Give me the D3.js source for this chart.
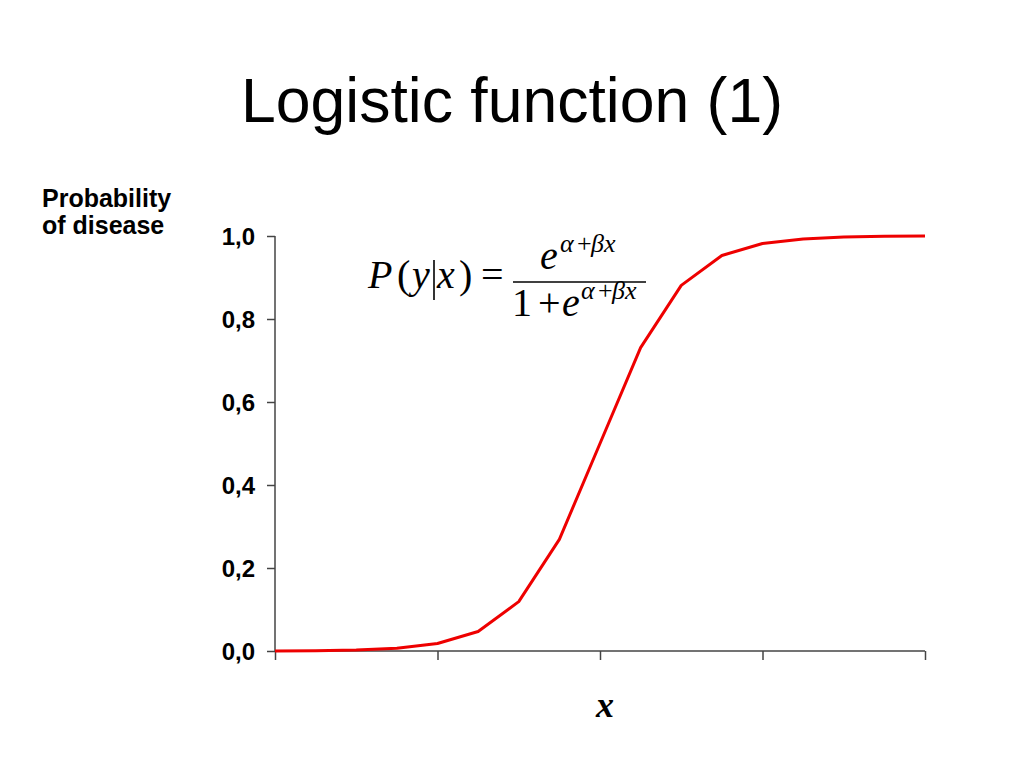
<!DOCTYPE html>
<html><head><meta charset="utf-8">
<script src="https://cdn.jsdelivr.net/npm/d3@7"></script>
<style>body{margin:0;background:#fff}svg{display:block}</style>
</head><body>
<script>
const xValues = [-8,-7,-6,-5,-4,-3,-2,-1,0,1,2,3,4,5,6,7,8];
const probValues = [0.0003,0.0009,0.0025,0.0067,0.018,0.047,0.119,0.269,0.5,0.731,0.881,0.953,0.982,0.993,0.9975,0.9991,0.9997];
const yTicks = [0,0.2,0.4,0.6,0.8,1.0];
const xTicks = [-8,-4,0,4,8];
const title = "Logistic function (1)";

const W=1024,H=768;
const svg=d3.select("body").append("svg").attr("width",W).attr("height",H);
const x=d3.scaleLinear().domain([-8,8]).range([275,925]);
const y=d3.scaleLinear().domain([0,1]).range([651,236]);

svg.append("text").attr("x",512).attr("y",122).attr("text-anchor","middle")
  .attr("font-family","Liberation Sans, Arial, sans-serif").attr("font-size",62.5).text(title);

const lab=svg.append("text").attr("font-family","Liberation Sans, Arial, sans-serif")
  .attr("font-weight","bold").attr("font-size",25);
lab.append("tspan").attr("x",42).attr("y",207).text("Probability");
lab.append("tspan").attr("x",42).attr("y",234).text("of disease");

const fmt=d=>d3.format(".1f")(d).replace(".",",");
const ya=svg.append("g").attr("transform","translate(275,0)")
  .call(d3.axisLeft(y).tickValues(yTicks).tickFormat(fmt).tickSize(8).tickPadding(12));
const xa=svg.append("g").attr("transform","translate(0,651)")
  .call(d3.axisBottom(x).tickValues(xTicks).tickFormat("").tickSize(9));
[ya,xa].forEach(g=>{
  g.selectAll("path").attr("stroke","#444").attr("stroke-width",1.5);
  g.selectAll("line").attr("stroke","#444").attr("stroke-width",1.5);
});
ya.selectAll("text").attr("font-family","Liberation Sans, Arial, sans-serif")
  .attr("font-weight","bold").attr("font-size",24).attr("fill","#000").attr("dy","0.35em");
ya.select(".domain").attr("d","M0,"+y(1)+"V"+y(0));
xa.select(".domain").attr("d","M"+x(-8)+",0H"+x(8));

svg.append("path").datum(xValues.map((v,i)=>[v,probValues[i]]))
  .attr("fill","none").attr("stroke","#ee0000").attr("stroke-width",3).attr("stroke-linejoin","round")
  .attr("d",d3.line().x(d=>x(d[0])).y(d=>y(d[1])));

// formula
const serif="Liberation Serif, Times New Roman, serif";
const f=svg.append("g").attr("font-family",serif).attr("font-size",40);
function t(px,py,s,opt={}){
  const e=f.append("text").attr("x",px).attr("y",py).text(s);
  if(opt.it) e.attr("font-style","italic");
  if(opt.size) e.attr("font-size",opt.size);
  return e;
}
t(368,288,"P",{it:1});
t(397,288,"(");
t(412,288,"y",{it:1});
f.append("line").attr("x1",434).attr("x2",434).attr("y1",260).attr("y2",300).attr("stroke","#000").attr("stroke-width",1.6);
t(437,288,"x",{it:1});
t(459,288,")");
t(481,288,"=");
f.append("line").attr("x1",513).attr("x2",646).attr("y1",282).attr("y2",282).attr("stroke","#000").attr("stroke-width",1.6);
t(540,269,"e",{it:1});
t(560,252,"\u03b1",{it:1,size:26});
t(577,252,"+",{size:26});
t(591,252,"\u03b2x",{it:1,size:26});
t(512,316,"1");
t(538,316,"+");
t(562,316,"e",{it:1});
t(581,299,"\u03b1",{it:1,size:26});
t(598,299,"+",{size:26});
t(612,299,"\u03b2x",{it:1,size:26});

svg.append("text").attr("x",605).attr("y",717).attr("text-anchor","middle")
  .attr("font-family",serif).attr("font-style","italic").attr("font-weight","bold")
  .attr("font-size",36).text("x");
</script>
</body></html>
